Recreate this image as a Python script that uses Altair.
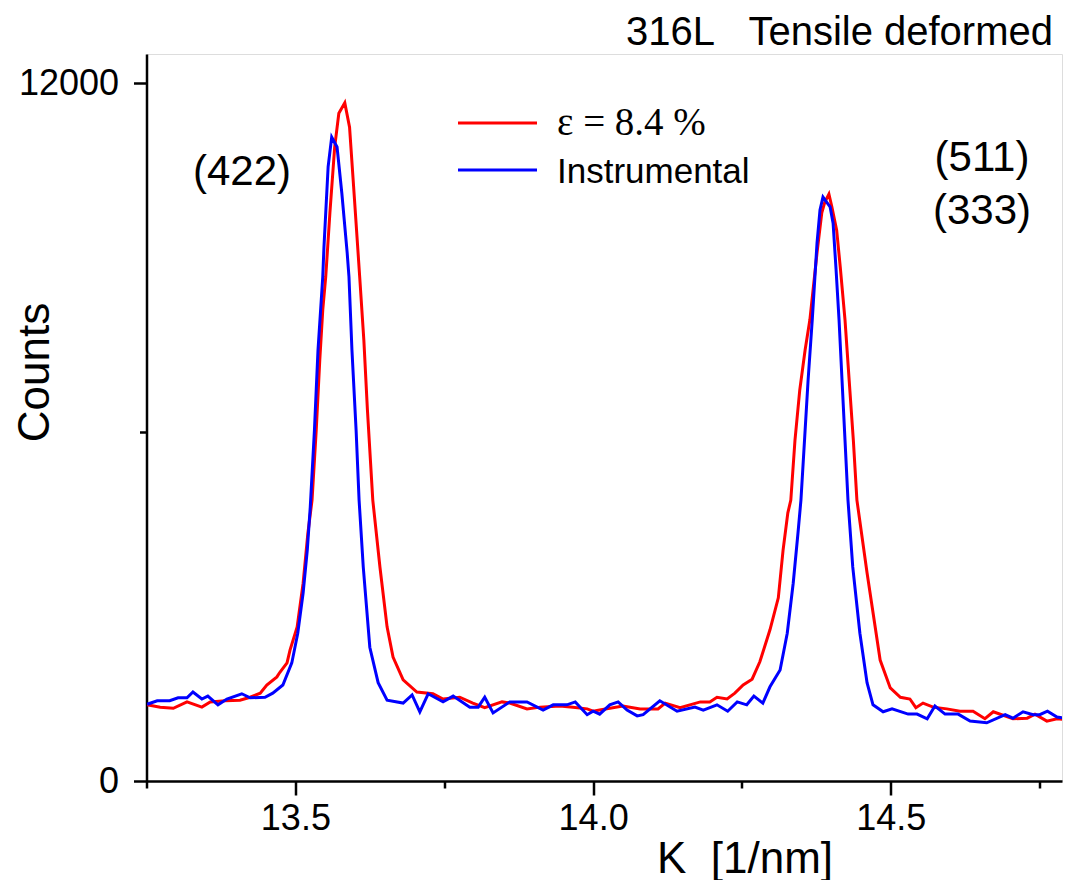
import altair as alt
import pandas as pd

# ---- data ----
red_k = [13.251, 13.273, 13.295, 13.318, 13.343, 13.357, 13.382, 13.407, 13.424, 13.441,
         13.452, 13.469, 13.474, 13.486, 13.491, 13.503, 13.513, 13.521, 13.528, 13.535,
         13.541, 13.546, 13.551, 13.558, 13.566, 13.573, 13.583, 13.591, 13.599, 13.608,
         13.615, 13.621, 13.630, 13.642, 13.654, 13.664, 13.681, 13.704, 13.731, 13.748,
         13.776, 13.798, 13.818, 13.847, 13.860, 13.889, 13.911, 13.944, 13.966, 13.990,
         14.000, 14.011, 14.050, 14.079, 14.109, 14.121, 14.146, 14.180, 14.196, 14.208,
         14.225, 14.238, 14.252, 14.267, 14.280, 14.297, 14.311, 14.319, 14.327, 14.332,
         14.339, 14.347, 14.356, 14.364, 14.376, 14.384, 14.389, 14.396, 14.401, 14.409,
         14.415, 14.423, 14.430, 14.437, 14.443, 14.460, 14.482, 14.499, 14.516, 14.532,
         14.542, 14.554, 14.571, 14.594, 14.616, 14.638, 14.658, 14.672, 14.705, 14.729,
         14.742, 14.762, 14.779, 14.799]
red_counts = [1310, 1270, 1250, 1360, 1270, 1360, 1380, 1390, 1440, 1510,
              1650, 1790, 1870, 2030, 2250, 2650, 3400, 4260, 4830, 6030,
              7240, 8100, 8670, 9770, 10900, 11480, 11660, 11240, 10040, 8670,
              7580, 6380, 4830, 3680, 2650, 2130, 1740, 1530, 1500, 1410,
              1440, 1340, 1260, 1360, 1340, 1240, 1270, 1290, 1270, 1240,
              1200, 1220, 1290, 1240, 1240, 1340, 1260, 1360, 1360, 1440,
              1410, 1510, 1650, 1750, 2050, 2600, 3150, 3970, 4610, 4830,
              5860, 6720, 7410, 7930, 9080, 9770, 9950, 10090, 9870, 9470,
              8840, 7930, 6890, 5860, 4830, 3580, 2080, 1600, 1440, 1410,
              1260, 1340, 1270, 1240, 1200, 1200, 1070, 1190, 1070, 1080,
              1150, 1030, 1070, 1050]

blue_k = [13.251, 13.268, 13.289, 13.303, 13.318, 13.328, 13.343, 13.353, 13.370, 13.385,
          13.410, 13.424, 13.449, 13.462, 13.479, 13.494, 13.504, 13.513, 13.520, 13.525,
          13.532, 13.538, 13.546, 13.548, 13.555, 13.561, 13.570, 13.578, 13.587, 13.590,
          13.595, 13.602, 13.607, 13.614, 13.625, 13.639, 13.654, 13.681, 13.696, 13.709,
          13.723, 13.748, 13.765, 13.793, 13.807, 13.818, 13.832, 13.860, 13.889, 13.916,
          13.933, 13.956, 13.970, 13.990, 14.000, 14.011, 14.028, 14.042, 14.057, 14.074,
          14.084, 14.112, 14.141, 14.171, 14.185, 14.208, 14.226, 14.242, 14.258, 14.270,
          14.285, 14.297, 14.314, 14.326, 14.336, 14.344, 14.349, 14.356, 14.361, 14.368,
          14.376, 14.381, 14.386, 14.398, 14.403, 14.408, 14.413, 14.418, 14.423, 14.428,
          14.436, 14.448, 14.460, 14.470, 14.487, 14.502, 14.529, 14.544, 14.561, 14.574,
          14.591, 14.613, 14.633, 14.661, 14.692, 14.705, 14.722, 14.739, 14.750, 14.763,
          14.779, 14.799]
blue_counts = [1320, 1380, 1380, 1430, 1430, 1530, 1410, 1460, 1310, 1410,
               1500, 1430, 1440, 1510, 1650, 2030, 2540, 3230, 3970, 4710,
               6030, 7410, 8670, 9180, 10560, 11070, 10900, 10110, 9080, 8670,
               7410, 6030, 4830, 3680, 2300, 1690, 1390, 1340, 1480, 1190,
               1500, 1360, 1460, 1270, 1270, 1440, 1170, 1360, 1360, 1220,
               1310, 1310, 1360, 1140, 1200, 1150, 1310, 1360, 1220, 1120,
               1140, 1380, 1200, 1270, 1220, 1310, 1200, 1360, 1310, 1460,
               1340, 1620, 1910, 2540, 3400, 4260, 4830, 6030, 6890, 7930,
               9250, 9820, 10040, 9870, 9590, 8790, 7930, 6890, 5860, 4830,
               3680, 2540, 1690, 1310, 1190, 1240, 1150, 1150, 1070, 1290,
               1150, 1150, 1030, 1000, 1140, 1080, 1190, 1140, 1140, 1200,
               1100, 1070]

NB = "\u00a0"
series_names = ["ε = 8.4 %", "Instrumental"]
peak_labels = ["(422)", "(511)", "(333)"]
chart_title = "316L" + NB * 3 + "Tensile deformed"
x_title = "K" + NB * 2 + "[1/nm]"
y_title = "Counts"
x_ticks = [13.25, 13.5, 13.75, 14.0, 14.25, 14.5, 14.75]
y_ticks = [0, 6000, 12000]

SANS = "Liberation Sans"
SERIF = "Liberation Serif"

red_df = pd.DataFrame({"K": red_k, "Counts": red_counts})
blue_df = pd.DataFrame({"K": blue_k, "Counts": blue_counts})

# the page has 1055 px of room; keep the reference's px-per-unit and cut the
# right edge at the available width
xscale = alt.Scale(domain=[13.25, 14.7874], nice=False, zero=False)
yscale = alt.Scale(domain=[0, 12500], nice=False, zero=False)

xaxis = alt.Axis(
    values=x_ticks, title=x_title, titleFont=SANS, titleFontSize=44, titleFontWeight="normal",
    titleX=598, titleY=91, titleAlign="center", titleBaseline="alphabetic",
    labelFont=SANS, labelFontSize=36, labelColor="black", labelPadding=6,
    labelExpr="datum.value % 0.5 == 0 ? format(datum.value, '.1f') : ''",
    labelOverlap=False, labelFlush=False,
    tickSize={"condition": {"test": "datum.value % 0.5 == 0", "value": 14}, "value": 7},
    tickColor="black", tickWidth=2.5, domainColor="black", domainWidth=2.5, grid=False,
)
yaxis = alt.Axis(
    values=y_ticks, title=y_title, titleFont=SANS, titleFontSize=44, titleFontWeight="normal",
    titleX=-98, titleY=318, titleAlign="center", titleBaseline="alphabetic", titleAngle=270,
    labelFont=SANS, labelFontSize=36, labelColor="black", labelPadding=15,
    labelExpr="datum.value == 6000 ? '' : format(datum.value, 'd')",
    labelOverlap=False, labelFlush=False,
    tickSize={"condition": {"test": "datum.value == 6000", "value": 7}, "value": 13},
    tickColor="black", tickWidth=2.5, domainColor="black", domainWidth=2.5, grid=False,
)

red_line = alt.Chart(red_df).mark_line(color="#ff0000", strokeWidth=3, clip=True).encode(
    x=alt.X("K:Q", scale=xscale, axis=xaxis),
    y=alt.Y("Counts:Q", scale=yscale, axis=yaxis),
)
blue_line = alt.Chart(blue_df).mark_line(color="#0000ff", strokeWidth=3, clip=True).encode(
    x=alt.X("K:Q", scale=xscale),
    y=alt.Y("Counts:Q", scale=yscale),
)

one = pd.DataFrame({"a": [0]})

def txt(text, x, y, size, font=SANS, align="center", baseline="middle"):
    return alt.Chart(one).mark_text(
        text=text, font=font, fontSize=size, align=align, baseline=baseline, color="black"
    ).encode(x=alt.value(x), y=alt.value(y))

def leg_rule(color, y):
    return alt.Chart(one).mark_rule(color=color, strokeWidth=3).encode(
        x=alt.value(311.5), x2=alt.value(390.5), y=alt.value(y)
    )

layers = [
    red_line,
    blue_line,
    leg_rule("#ff0000", 69),
    leg_rule("#0000ff", 116),
    txt(series_names[0], 410.5, 81, 39, font=SERIF, align="left", baseline="alphabetic"),
    txt(series_names[1], 410.5, 129, 35, align="left", baseline="alphabetic"),
    txt(peak_labels[0], 95.5, 118, 42),
    txt(peak_labels[1], 835.5, 104, 42),
    txt(peak_labels[2], 835.5, 157, 42),
    txt(chart_title, 906.5, -9.5, 40, align="right", baseline="alphabetic"),
]

chart = alt.layer(*layers).properties(
    width=915.5, height=727,
    autosize=alt.AutoSizeParams(type="none"),
    padding={"left": 138.5, "top": 46, "right": 1, "bottom": 99},
).configure_view(stroke="#808080", strokeWidth=2).configure(background="white")

chart.save("out.html", embed_options={"renderer": "svg", "actions": False})
